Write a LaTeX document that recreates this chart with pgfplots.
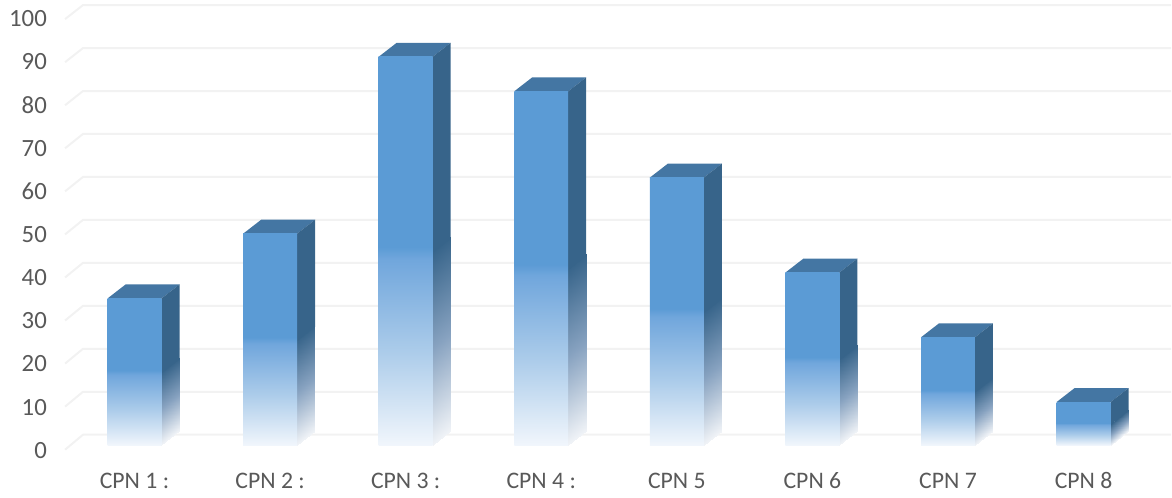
\documentclass[border=0pt]{standalone}
\usepackage{fontspec}
\setmainfont{Carlito}
\usepackage{pgfplots}
\pgfplotsset{compat=1.18}
\definecolor{front}{RGB}{91,155,213}
\definecolor{topc}{RGB}{68,118,163}
\definecolor{sidec}{RGB}{55,100,138}
\definecolor{gridc}{RGB}{242,242,242}
\definecolor{txt}{RGB}{89,89,89}
\definecolor{fa}{RGB}{241,246,252}
\definecolor{fb}{RGB}{172,204,234}
\definecolor{fc}{RGB}{112,166,220}
\pgfdeclareverticalshading{barfade}{100bp}{
  color(0bp)=(fa);
  color(25bp)=(fa);
  color(37bp)=(fb);
  color(49bp)=(fc);
  color(50.5bp)=(front);
  color(75bp)=(front);
  color(100bp)=(front)}
\newcommand\gridl[2]{\addplot[gridc, line width=1.5pt, forget plot] coordinates {(-0.512,#1) (-0.380,#2) (7.645,#2)};}
\newcommand\cpnbar[2]{%
  \pgfmathsetmacro\xr{#1+0.199}%
  \pgfmathsetmacro\xs{#1+0.332}%
  \pgfmathsetmacro\xp{#1+0.3305}%
  \pgfmathsetmacro\xl{#1-0.199}%
  \pgfmathsetmacro\xt{#1-0.066}%
  \pgfmathsetmacro\yh{#2/2}%
  \pgfmathsetmacro\yt{#2+3.24}%
  \pgfmathsetmacro\yhb{#2/2+3.24}%
  \pgfmathsetmacro\yho{#2/2-0.3}%
  \pgfmathsetmacro\yhbo{#2/2+3.24-0.3}%
  \addplot[patch, patch type=rectangle, shader=interp, point meta=explicit, forget plot]
    coordinates {(\xr,0) [0] (\xp,3.24) [0] (\xp,\yhb) [1] (\xr,\yh) [1]};
  \addplot[fill=topc, draw=none, forget plot] coordinates {(\xl,#2) (\xr,#2) (\xs,\yt) (\xt,\yt)} --cycle;
  \addplot[fill=sidec, draw=none, forget plot] coordinates {(\xr,\yho) (\xr,#2) (\xs,\yt) (\xs,\yhbo)} --cycle;
  \addplot[ybar, bar width=40.5pt, bar shift=0pt, draw=none, shade, shading=barfade, forget plot] coordinates {(#1,#2)};
}
\begin{document}
\begin{tikzpicture}
\begin{axis}[
  scale only axis, width=879pt, height=373.5pt,
  xmin=-0.991, xmax=7.645, ymin=-12.15, ymax=103.125,
  clip=false,
  axis line style={draw=none},
  major tick length=0pt,
  xtick={0,...,7},
  xticklabels={{CPN 1 :},{CPN 2 :},{CPN 3 :},{CPN 4 :},{CPN 5},{CPN 6},{CPN 7},{CPN 8}},
  ytick={0,10,...,100},
  tick label style={text=txt, inner sep=0pt},
  xticklabel style={font=\fontsize{17.8}{20}\selectfont, anchor=center, yshift=12.75pt},
  yticklabel style={font=\fontsize{18.6}{20}\selectfont, anchor=east, xshift=35.25pt, yshift=-3.8pt, /pgf/number format/assume math mode=true},
  point meta min=0, point meta max=1,
  colormap={sidefade}{rgb255(0)=(240,243,247); rgb255(0.5)=(135,162,192); rgb255(1)=(55,100,138)},
]
\gridl{-1.04}{2.43}
\gridl{8.94}{12.38}
\gridl{18.91}{22.34}
\gridl{28.89}{32.29}
\gridl{38.87}{42.25}
\gridl{48.84}{52.20}
\gridl{58.82}{62.15}
\gridl{68.80}{72.11}
\gridl{78.77}{82.06}
\gridl{88.75}{92.01}
\gridl{98.73}{101.97}
\cpnbar{0}{34}
\cpnbar{1}{49}
\cpnbar{2}{90}
\cpnbar{3}{82}
\cpnbar{4}{62}
\cpnbar{5}{40}
\cpnbar{6}{25}
\cpnbar{7}{10}
\end{axis}
\end{tikzpicture}
\end{document}
